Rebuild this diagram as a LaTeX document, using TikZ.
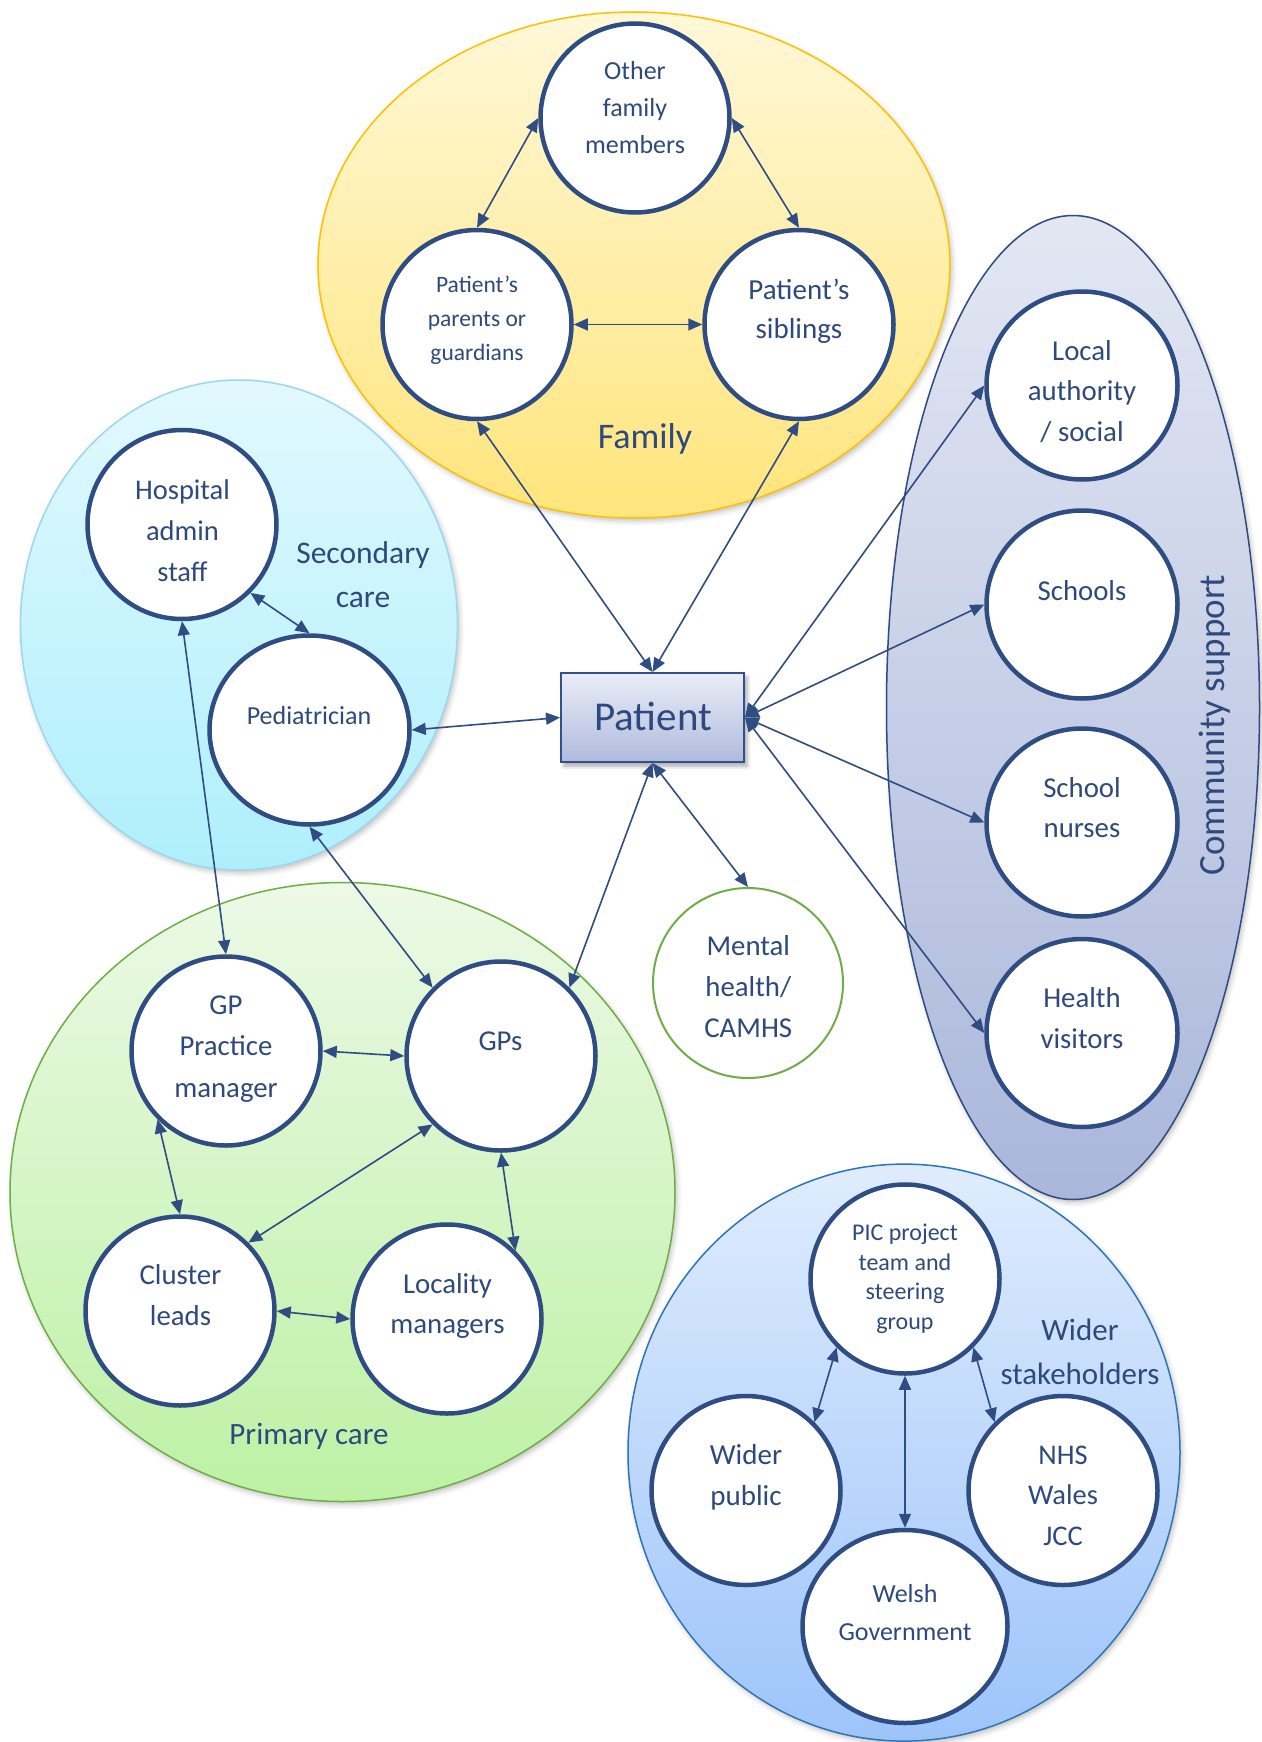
\documentclass[tikz,border=0pt]{standalone}
\usepackage{fontspec}
\setmainfont{Carlito}
\usetikzlibrary{shapes.geometric, arrows.meta, shadows.blur}

\definecolor{ink}{HTML}{2F4D82}
\definecolor{inktext}{HTML}{2E4A7C}
\definecolor{famline}{HTML}{FFC000}
\definecolor{famtop}{HTML}{FFF8D8}
\definecolor{fambot}{HTML}{FFE57C}
\definecolor{secline}{HTML}{9ED6F0}
\definecolor{sectop}{HTML}{E2F9FE}
\definecolor{secbot}{HTML}{AEEFFC}
\definecolor{priline}{HTML}{70AD47}
\definecolor{pritop}{HTML}{ECF9E6}
\definecolor{pribot}{HTML}{BDF1A4}
\definecolor{comline}{HTML}{2F4B7F}
\definecolor{comtop}{HTML}{E3E7F3}
\definecolor{combot}{HTML}{AAB7DB}
\definecolor{widline}{HTML}{2E75B6}
\definecolor{widtop}{HTML}{DFECFD}
\definecolor{widbot}{HTML}{9DC4FA}
\definecolor{pattop}{HTML}{EAEDF7}
\definecolor{patbot}{HTML}{AFBBDD}
\definecolor{patline}{HTML}{2F528F}

% multi-line text whose baseline is the first line
\newcommand\stack[1]{\begin{tabular}[t]{@{}c@{}}#1\end{tabular}}
\newcommand\fsz[2]{\fontsize{#1}{#2}\selectfont}

\tikzset{
  group/.style={ellipse, inner sep=0pt, line width=1.5pt,
    blur shadow={shadow xshift=2pt, shadow yshift=-3pt, shadow blur radius=5pt, shadow opacity=25}},
  member/.style={ellipse, draw=ink, line width=4.5pt, fill=white, inner sep=0pt,
    minimum width=189pt, minimum height=189pt},
  txt/.style={text=inktext, anchor=base, inner sep=0pt},
  link/.style={draw=ink, line width=1.6pt,
    {Triangle[length=14pt,width=12pt]}-{Triangle[length=14pt,width=12pt]}}
}

\begin{document}
\begin{tikzpicture}[x=1pt, y=-1pt]
\useasboundingbox (0,0) rectangle (1261,1742);

% ---- group areas ----
\node[group, draw=famline, top color=famtop, bottom color=fambot,
      minimum width=632pt, minimum height=506pt] (family) at (634,265) {};
\node[group, draw=secline, top color=sectop, bottom color=secbot,
      minimum width=437pt, minimum height=490pt] (secondary) at (239,625) {};
\node[group, draw=priline, top color=pritop, bottom color=pribot,
      minimum width=665pt, minimum height=619pt] (primary) at (342.5,1192) {};
\node[group, draw=comline, top color=comtop, bottom color=combot,
      minimum width=373pt, minimum height=984pt] (community) at (1073,707.5) {};
\node[group, draw=widline, top color=widtop, bottom color=widbot,
      minimum width=552pt, minimum height=577pt] (wider) at (904,1452.6) {};

% ---- group captions ----
\node[txt, font=\fsz{36}{50}] (family-t) at (645,448) {Family};
\node[txt, font=\fsz{31.5}{44}] (secondary-t) at (363,563.3) {\stack{Secondary\\care}};
\node[txt, font=\fsz{31}{43}] (primary-t) at (309,1444.5) {Primary care};
\node[txt, font=\fsz{37}{50}, rotate=90] (community-t) at (1224,725) {Community support};
\node[txt, font=\fsz{31}{43.4}] (wider-t) at (1080,1340.6) {\stack{Wider\\stakeholders}};

% ---- patient ----
\node[rectangle, draw=patline, line width=2pt, top color=pattop, bottom color=patbot,
      minimum width=183pt, minimum height=89pt, inner sep=0pt,
      blur shadow={shadow xshift=3pt, shadow yshift=-4pt, shadow blur radius=4pt, shadow opacity=35}]
      (patient) at (652.5,717.5) {};
\node[txt, font=\fsz{41}{50}] (patient-t) at (653,730.7) {Patient};

% ---- family ----
\node[member] (other) at (635,118) {};
\node[member] (parents) at (477,324.5) {};
\node[member] (siblings) at (799,324.5) {};
\node[txt, font=\fsz{26}{37.2}] (other-t) at (635,79.4) {\stack{Other\\family\\members}};
\node[txt, font=\fsz{23.5}{34}] (parents-t) at (477,292.4) {\stack{Patient’s\\parents or\\guardians}};
\node[txt, font=\fsz{29}{39}] (siblings-t) at (799,299) {\stack{Patient’s\\siblings}};

% ---- secondary care ----
\node[member] (hospital) at (182,524.5) {};
\node[member, minimum width=200pt] (pediatrician) at (309.5,730) {};
\node[txt, font=\fsz{28.5}{41.2}] (hospital-t) at (182.5,499.3) {\stack{Hospital\\admin\\staff}};
\node[txt, font=\fsz{26}{37}] (pediatrician-t) at (309,724) {Pediatrician};

% ---- primary care ----
\node[member] (gppm) at (226,1051) {};
\node[member] (gps) at (501,1056) {};
\node[member] (cluster) at (180,1311) {};
\node[member] (locality) at (447,1319) {};
\node[txt, font=\fsz{28.8}{41.5}] (gppm-t) at (226,1014) {\stack{GP\\Practice\\manager}};
\node[txt, font=\fsz{28.8}{41.5}] (gps-t) at (500.5,1050) {GPs};
\node[txt, font=\fsz{28.8}{41.2}] (cluster-t) at (180.5,1284.6) {\stack{Cluster\\leads}};
\node[txt, font=\fsz{28.8}{40}] (locality-t) at (447.5,1293) {\stack{Locality\\managers}};

% ---- mental health ----
\node[ellipse, draw=priline, line width=2pt, fill=white, inner sep=0pt,
      minimum width=190pt, minimum height=190pt] (mental) at (748,983) {};
\node[txt, font=\fsz{28.8}{41}] (mental-t) at (748.3,955) {\stack{Mental\\health/\\CAMHS}};

% ---- community support ----
\node[member, minimum width=191pt, minimum height=188pt] (local) at (1082,385.5) {};
\node[member, minimum width=191pt, minimum height=188pt] (schools) at (1082,604.5) {};
\node[member, minimum width=191pt, minimum height=188pt] (nurses) at (1082,822.5) {};
\node[member, minimum width=191pt, minimum height=188pt] (visitors) at (1082,1033) {};
\node[txt, font=\fsz{28.8}{40.3}] (local-t) at (1082,360.5) {\stack{Local\\authority\\/ social}};
\node[txt, font=\fsz{28.8}{40.5}] (schools-t) at (1082,600.3) {Schools};
\node[txt, font=\fsz{28.8}{40.5}] (nurses-t) at (1082,797.3) {\stack{School\\nurses}};
\node[txt, font=\fsz{28.8}{41.5}] (visitors-t) at (1082,1007) {\stack{Health\\visitors}};

% ---- wider stakeholders ----
\node[member] (pic) at (905,1279) {};
\node[member] (wpub) at (746,1490.5) {};
\node[member] (nhs) at (1063,1490.5) {};
\node[member, minimum width=205pt, minimum height=193pt] (welsh) at (905,1626.5) {};
\node[txt, font=\fsz{24}{29.6}] (pic-t) at (905,1240.6) {\stack{PIC project\\team and\\steering\\group}};
\node[txt, font=\fsz{29}{41}] (wpub-t) at (746,1464) {\stack{Wider\\public}};
\node[txt, font=\fsz{28.5}{40.8}] (nhs-t) at (1063,1464) {\stack{NHS\\Wales\\JCC}};
\node[txt, font=\fsz{26}{38}] (welsh-t) at (905,1602) {\stack{Welsh\\Government}};

% ---- connectors ----
\draw[link] (other.west) -- (parents.north);
\draw[link] (other.east) -- (siblings.north);
\draw[link] (parents.east) -- (siblings.west);
\draw[link] (parents.south) -- (patient.north);
\draw[link] (siblings.south) -- (patient.north);

\draw[link] (hospital.315) -- (pediatrician.north);
\draw[link] (hospital.south) -- (gppm.north);
\draw[link] (pediatrician.east) -- (patient.west);
\draw[link] (pediatrician.south) -- (gps.135);
\draw[link] (patient.south) -- (gps.45);
\draw[link] (patient.south) -- (mental.north);

\draw[link] (patient.east) -- (local.west);
\draw[link] (patient.east) -- (schools.west);
\draw[link] (patient.east) -- (nurses.west);
\draw[link] (patient.east) -- (visitors.west);

\draw[link] (gppm.east) -- (gps.west);
\draw[link] (gppm.225) -- (cluster.north);
\draw[link] (gps.225) -- (cluster.45);
\draw[link] (gps.south) -- (locality.45);
\draw[link] (cluster.east) -- (locality.west);

\draw[link] (pic.225) -- (wpub.45);
\draw[link] (pic.south) -- (welsh.north);
\draw[link] (pic.315) -- (nhs.135);
\end{tikzpicture}
\end{document}
